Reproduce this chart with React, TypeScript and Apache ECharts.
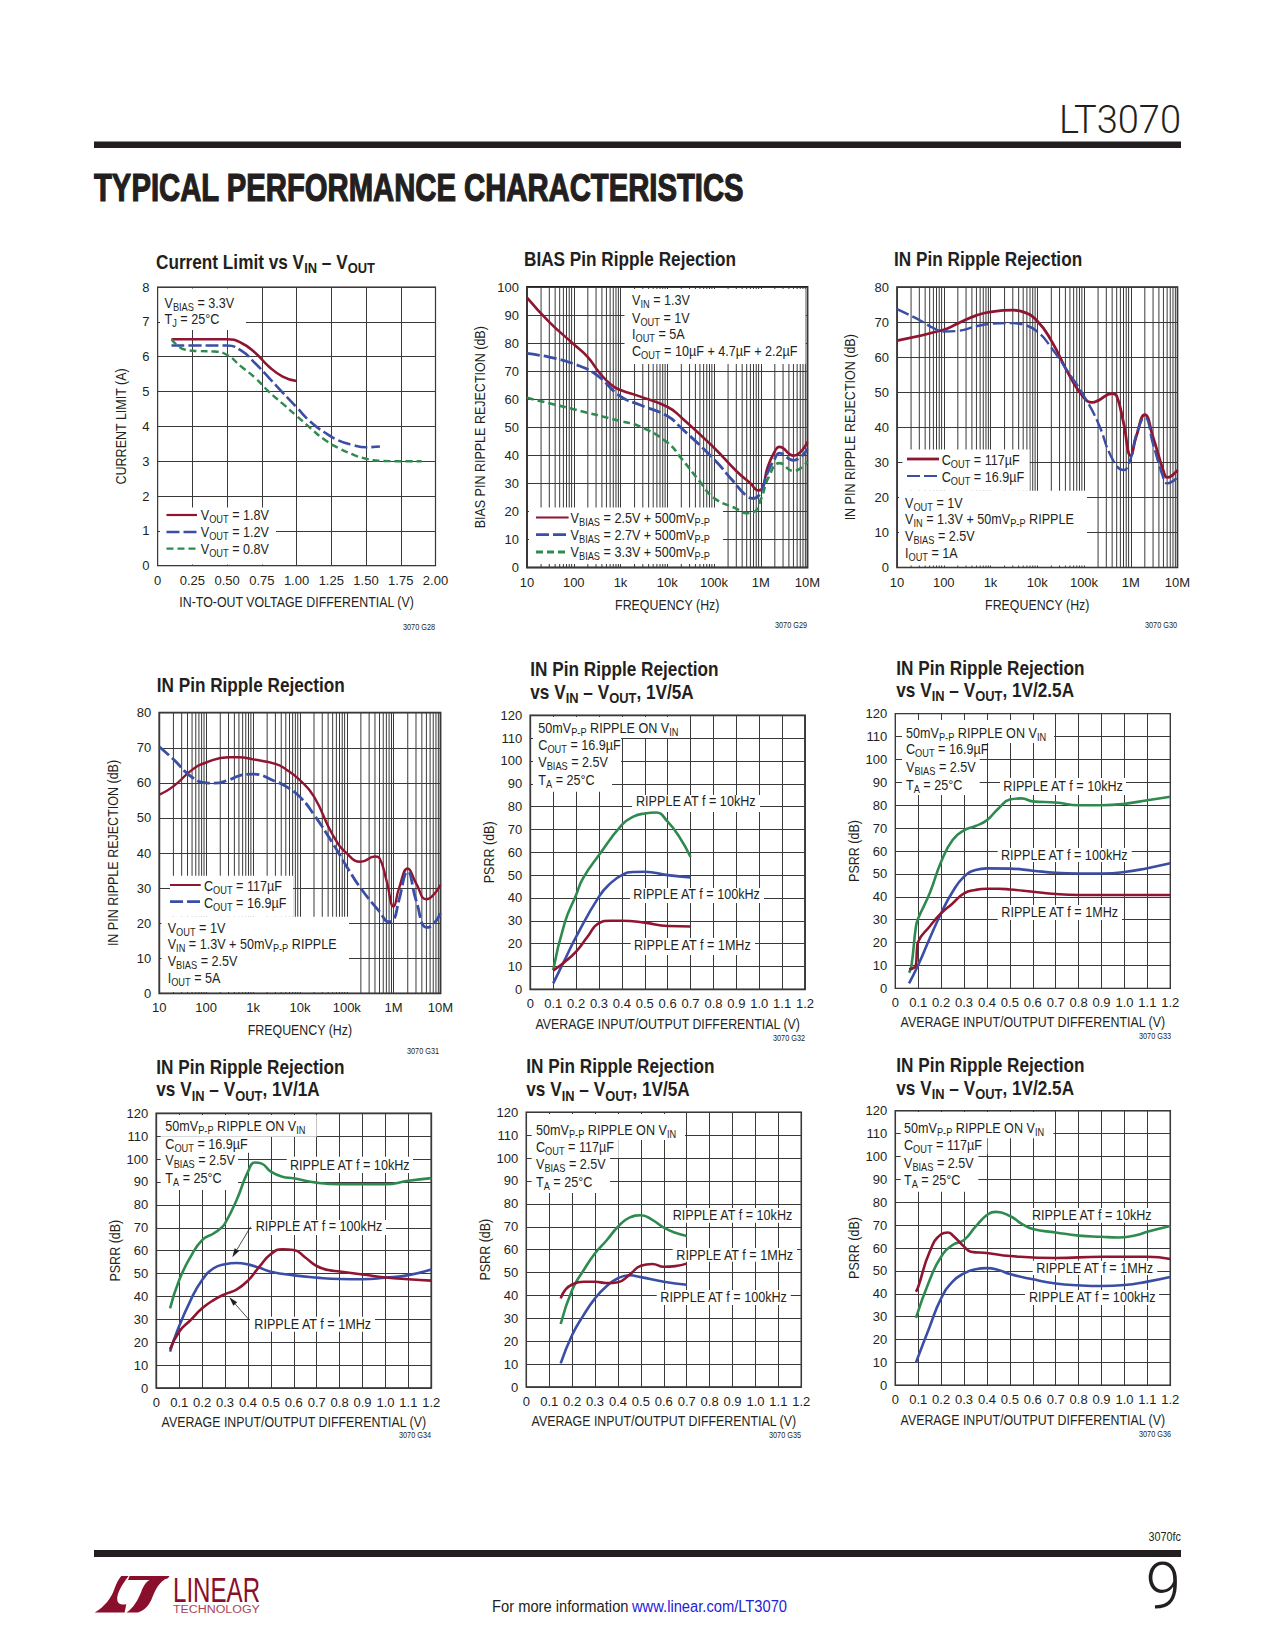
import React, { useEffect, useRef } from "react";
import * as echarts from "echarts";

const SANS = "'Liberation Sans', sans-serif";
const LIGHT = "Roboto, 'Liberation Sans', sans-serif";
const RED = "#8f1530";
const BLUE = "#3a4ea6";
const GREEN = "#2f8a50";
const INK = "#231f20";
const GRID = "#3a3a3a";

// Chart 1
const c1Red = [[0.1,6.5],[0.3,6.5],[0.5,6.5],[0.6,6.4],[0.7,6.12],[0.8,5.72],[0.9,5.43],[1.0,5.3]];
const c1Blue = [[0.1,6.32],[0.3,6.32],[0.5,6.32],[0.6,6.18],[0.7,5.82],[0.8,5.4],[0.9,4.97],[1.0,4.55],[1.1,4.13],[1.2,3.83],[1.3,3.6],[1.4,3.47],[1.5,3.4],[1.6,3.42]];
const c1Green = [[0.1,6.5],[0.2,6.2],[0.3,6.16],[0.4,6.15],[0.5,6.05],[0.6,5.72],[0.7,5.4],[0.8,5.0],[0.9,4.65],[1.0,4.3],[1.1,3.95],[1.2,3.62],[1.3,3.38],[1.4,3.2],[1.5,3.07],[1.6,3.01],[1.75,3.0],[1.9,3.0]];
// Chart 2
const c2Red = [[10,96.2],[30,87.5],[100,79.6],[200,75],[356,69.4],[650,65],[1000,63.3],[2570,61],[10000,57.3],[20000,53.5],[100000,42.7],[300000,34.4],[600000,30],[900000,27.5],[1100000,28.5],[1400000,35.7],[2000000,41.4],[2500000,43],[5000000,39.9],[10000000,44.8]];
const c2Blue = [[10,76.3],[30,75],[100,72.6],[300,68.8],[1000,61],[2570,58],[10000,54],[20000,49.7],[100000,38.6],[250000,31],[500000,25.5],[700000,24.6],[1000000,26.8],[1400000,33.8],[2000000,38.8],[2500000,40.8],[5000000,38.2],[10000000,42.3]];
const c2Green = [[10,60.5],[100,56.4],[1000,52.2],[2570,50.3],[10000,44.6],[20000,38.9],[50000,30.6],[100000,24.8],[300000,21],[500000,19.4],[700000,19.7],[1000000,24.2],[1500000,32.5],[2500000,37.2],[5000000,34.4],[10000000,37.8]];
// Chart 3
const c3Red = [[10,64.7],[100,67.8],[200,69.6],[500,71.9],[1000,72.9],[3000,73.4],[5000,72.9],[10000,70.3],[20000,64.7],[50000,54.5],[100000,48.4],[150000,47.1],[200000,47.6],[400000,49.6],[500000,48.9],[700000,41.3],[1000000,31.9],[1300000,37.2],[2000000,43.6],[3000000,37.2],[5000000,27.5],[6000000,25.7],[10000000,27.8]];
const c3Blue = [[10,73.7],[30,70.6],[60,68.3],[100,67.3],[200,67.5],[500,68.8],[1000,69.5],[3000,69.7],[5000,69.3],[10000,67.3],[20000,62.7],[50000,55],[100000,48.9],[200000,41.3],[400000,31.1],[700000,27.8],[1000000,31.1],[1300000,37.7],[2000000,42.8],[3000000,35.2],[5000000,25.5],[6000000,24],[10000000,25.7]];
// Chart 4
const c4Red = [[10,56.6],[20,59],[50,63.7],[100,65.8],[300,67.3],[500,67.3],[1000,66.7],[3000,65.4],[5000,63.9],[10000,60.8],[20000,56.1],[50000,45.2],[100000,39.9],[200000,37.5],[400000,39],[500000,38.5],[700000,32.3],[1000000,24.7],[1300000,29.9],[2000000,35.6],[3000000,31.4],[5000000,26.8],[7000000,28],[10000000,30.9]];
const c4Blue = [[10,70.3],[20,66.7],[50,61.6],[100,60],[150,59.9],[300,60.8],[500,62],[1000,62.5],[3000,60.4],[5000,59],[10000,56],[20000,50.9],[50000,42.8],[100000,36.1],[200000,29.9],[500000,23.3],[800000,20.4],[1000000,20.9],[1300000,26.6],[2000000,34.7],[3000000,26.6],[5000000,18.8],[6000000,19],[10000000,22.8]];
// Chart 5
const c5Green = [[0.1,8.5],[0.15,29],[0.2,41.3],[0.23,48.6],[0.3,58.8],[0.4,72],[0.45,75.6],[0.5,77],[0.55,77.4],[0.6,73.4],[0.65,66.9],[0.7,58]];
const c5Blue = [[0.1,2.6],[0.15,12.8],[0.2,23],[0.3,40.6],[0.35,46.4],[0.4,50],[0.45,51.4],[0.5,51.5],[0.6,50],[0.7,49]];
const c5Red = [[0.1,8.2],[0.15,12],[0.2,16.5],[0.25,23],[0.3,29],[0.35,30],[0.4,30],[0.5,29.2],[0.6,27.7],[0.7,27.5]];
// Chart 6
const c6Green = [[0.06,6.8],[0.07,9.5],[0.09,27],[0.1,30.6],[0.15,41.5],[0.2,55.3],[0.25,64.8],[0.3,69],[0.35,70.9],[0.4,73.5],[0.45,78.6],[0.5,82.5],[0.55,83],[0.6,81.7],[0.7,81.2],[0.8,80],[0.9,80],[1.0,80.6],[1.1,82.2],[1.2,83.7]];
const c6Blue = [[0.06,2.2],[0.1,10.2],[0.15,21.8],[0.2,32.8],[0.25,42.2],[0.3,48.8],[0.35,51.7],[0.4,52.4],[0.5,52.3],[0.6,51.4],[0.7,50.5],[0.8,50.2],[0.9,50.2],[1.0,50.8],[1.1,52.5],[1.2,54.6]];
const c6Red = [[0.06,8.3],[0.09,10.2],[0.095,17.5],[0.1,20.4],[0.15,27],[0.2,32.8],[0.25,37.1],[0.3,41.5],[0.35,43],[0.4,43.5],[0.45,43.5],[0.5,43.2],[0.6,42.2],[0.7,41.2],[0.8,40.8],[1.2,40.8]];
// Chart 7
const c7Green = [[0.06,34.8],[0.1,47.2],[0.15,57.4],[0.2,64.6],[0.25,67.5],[0.28,69.7],[0.3,71.9],[0.35,82],[0.4,94.5],[0.43,98.5],[0.46,98],[0.5,94.5],[0.55,92.3],[0.6,91.6],[0.7,89.7],[0.8,89],[0.9,89],[1.0,89],[1.1,90.5],[1.2,91.7]];
const c7Blue = [[0.06,15.9],[0.09,24.6],[0.15,38.4],[0.2,47.2],[0.25,52.3],[0.3,54.1],[0.35,54.6],[0.4,54],[0.45,52.5],[0.5,50.8],[0.6,49.2],[0.7,48.2],[0.8,47.6],[0.9,47.5],[1.0,48.2],[1.1,49.3],[1.2,51.8]];
const c7Red = [[0.06,16.9],[0.1,24.6],[0.15,29.7],[0.2,34.8],[0.25,38.4],[0.3,41],[0.35,43],[0.4,46.9],[0.45,53],[0.5,58.5],[0.55,60.6],[0.6,60.3],[0.65,57],[0.7,53.3],[0.75,51.5],[0.8,50.9],[0.9,49.6],[1.0,48.3],[1.1,47.5],[1.2,46.9]];
// Chart 8
const c8Green = [[0.15,27.5],[0.2,42.4],[0.25,51],[0.3,58.4],[0.35,64],[0.4,70],[0.45,74],[0.5,75],[0.55,73],[0.6,69.6],[0.65,67.4],[0.7,66]];
const c8Blue = [[0.15,10.3],[0.2,22.7],[0.25,31.4],[0.3,38.7],[0.35,44],[0.4,47.5],[0.45,48.8],[0.5,48],[0.6,46],[0.7,44.7]];
const c8Red = [[0.15,38.7],[0.17,42.4],[0.2,44.8],[0.25,46],[0.3,46],[0.35,45.4],[0.4,45.8],[0.45,49],[0.5,53],[0.55,53.7],[0.6,52.5],[0.65,52.8],[0.7,53.9]];
// Chart 9
const c9Red = [[0.09,40.9],[0.1,43],[0.15,58.4],[0.2,66],[0.23,66.8],[0.25,65.6],[0.3,60.6],[0.33,58.4],[0.4,57.8],[0.5,56.5],[0.7,55.6],[0.9,56.2],[1.1,56.2],[1.2,55.2]];
const c9Green = [[0.09,29.5],[0.15,46],[0.2,56.2],[0.25,61.3],[0.3,63.5],[0.35,69.3],[0.4,74.4],[0.44,75.8],[0.5,74],[0.55,70.7],[0.6,68.3],[0.7,66.8],[0.8,65.4],[0.9,64.9],[0.97,64.6],[1.05,65.6],[1.1,67.1],[1.2,69.6]];
const c9Blue = [[0.09,9.9],[0.15,25.6],[0.2,38],[0.25,45.3],[0.3,48.9],[0.35,50.7],[0.4,51.2],[0.45,50.4],[0.5,48.6],[0.6,46.3],[0.7,44.5],[0.8,43.7],[0.9,43.4],[1.0,43.8],[1.1,45.3],[1.2,47.3]];

const freqDecades = [10, 100, 1000, 10000, 100000, 1000000];
const freqMinorSteps = [2, 3, 4, 5, 6, 7, 8, 9];
const freqTickLabels: Record<number, string> = { 10: "10", 100: "100", 1000: "1k", 10000: "10k", 100000: "100k", 1000000: "1M", 10000000: "10M" };

const LOGO_MARK = "M100 33 L122 33 C105 55 85 85 88 105 C90 118 100 120 115 118 L110 143 L20 143 C50 125 70 100 80 70 C85 55 92 42 100 33 Z M125 33 L245 33 L240 40 C215 45 200 80 190 105 C180 125 170 135 150 143 L115 143 C135 130 150 105 160 80 C165 65 175 50 185 45 L120 45 Z";
echarts.graphic.registerShape("ltmark", echarts.graphic.extendPath(LOGO_MARK, {}) as any);

function rt(s: string) {
  return s.split("_").map((p, i) => (p === "" ? "" : `{${i % 2 ? "s" : "n"}|${p}}`)).join("");
}
function txt(x: number, y: number, s: string, size = 15, o: any = {}) {
  const font: any = { fontFamily: o.family || SANS, fontWeight: o.weight || "normal", fill: o.color || INK };
  if (o.stroke) { font.stroke = o.color || INK; font.lineWidth = o.stroke; }
  const lh = Math.round(size * 1.35);
  return {
    type: "text", x, y, z: 10, silent: true, scaleX: o.scaleX ?? 0.84, rotation: o.rotation ?? 0,
    style: {
      text: rt(s), align: o.align || "left", verticalAlign: "middle",
      rich: {
        n: { ...font, fontSize: size, lineHeight: lh },
        s: { ...font, fontSize: Math.round(size * 0.76), lineHeight: lh, verticalAlign: "bottom" },
      },
    },
  };
}
const head = (x: number, y: number, s: string) => txt(x, y, s, 20, { weight: "bold", scaleX: 0.86 });
function box(x1: number, y1: number, x2: number, y2: number) {
  return { type: "rect", z: 1, silent: true, shape: { x: x1, y: y1, width: x2 - x1, height: y2 - y1 }, style: { fill: "#fff" } };
}
function key(x1: number, x2: number, y: number, color: string, w: number, dash?: number[]) {
  return { type: "line", z: 5, silent: true, shape: { x1, y1: y, x2, y2: y }, style: { stroke: color, lineWidth: w, lineDash: dash } };
}
function arrow(x1: number, y1: number, x2: number, y2: number) {
  const a = Math.atan2(y2 - y1, x2 - x1);
  const L = 9, W = 2.6;
  const bx = x2 - L * Math.cos(a), by = y2 - L * Math.sin(a);
  const nx = -Math.sin(a) * W, ny = Math.cos(a) * W;
  return [
    { type: "line", z: 6, silent: true, shape: { x1, y1, x2: bx, y2: by }, style: { stroke: INK, lineWidth: 0.8 } },
    { type: "polygon", z: 6, silent: true, shape: { points: [[x2, y2], [bx + nx, by + ny], [bx - nx, by - ny]] }, style: { fill: INK } },
  ];
}

type Curve = { name: string; data: number[][]; color: string; width: number; dash?: number[] };
type Panel = {
  l: number; r: number; t: number; b: number; log?: boolean; xMax?: number; xStep?: number; yMax: number;
  xName: string; yName: string; xGap: number; yGap: number; frame: number; xFixed?: number; curves: Curve[];
};

const DIFF = "AVERAGE INPUT/OUTPUT DIFFERENTIAL (V)";
const FREQ = "FREQUENCY (Hz)";
const rej = "IN PIN RIPPLE REJECTION (dB)";
const sol = (name: string, data: number[][], color: string, width = 2.6): Curve => ({ name, data, color, width });

const panels: Panel[] = [
  { l: 157.6, r: 435.5, t: 287, b: 565.7, xMax: 2, xStep: 0.25, xFixed: 2, yMax: 8, xName: "IN-TO-OUT VOLTAGE DIFFERENTIAL (V)", yName: "CURRENT LIMIT (A)", xGap: 36, yGap: 37, frame: 1.2,
    curves: [sol("VOUT = 1.8V", c1Red, RED), { name: "VOUT = 1.2V", data: c1Blue, color: BLUE, width: 2.6, dash: [13, 4] }, { name: "VOUT = 0.8V", data: c1Green, color: GREEN, width: 2.4, dash: [7, 4] }] },
  { l: 527, r: 807.5, t: 287, b: 567.5, log: true, yMax: 100, xName: FREQ, yName: "BIAS PIN RIPPLE REJECTION (dB)", xGap: 37.5, yGap: 47, frame: 1.8,
    curves: [sol("VBIAS = 2.5V", c2Red, RED), { name: "VBIAS = 2.7V", data: c2Blue, color: BLUE, width: 2.8, dash: [13, 4] }, { name: "VBIAS = 3.3V", data: c2Green, color: GREEN, width: 2.6, dash: [7, 4] }] },
  { l: 897, r: 1177.5, t: 287, b: 567.5, log: true, yMax: 80, xName: FREQ, yName: rej, xGap: 37.5, yGap: 47, frame: 1.6,
    curves: [sol("COUT = 117uF", c3Red, RED, 2.8), { name: "COUT = 16.9uF", data: c3Blue, color: BLUE, width: 2.4, dash: [13, 4] }] },
  { l: 159.3, r: 440.5, t: 712.7, b: 993.3, log: true, yMax: 80, xName: FREQ, yName: rej, xGap: 37, yGap: 47, frame: 1.8,
    curves: [sol("COUT = 117uF", c4Red, RED, 2.4), { name: "COUT = 16.9uF", data: c4Blue, color: BLUE, width: 2.8, dash: [13, 4] }] },
  { l: 530.3, r: 805, t: 715.3, b: 989.3, xMax: 1.2, xStep: 0.1, xFixed: 1, yMax: 120, xName: DIFF, yName: "PSRR (dB)", xGap: 35, yGap: 42, frame: 1.7,
    curves: [sol("10kHz", c5Green, GREEN), sol("100kHz", c5Blue, BLUE), sol("1MHz", c5Red, RED)] },
  { l: 895.3, r: 1170.3, t: 713.7, b: 988.3, xMax: 1.2, xStep: 0.1, xFixed: 1, yMax: 120, xName: DIFF, yName: "PSRR (dB)", xGap: 33.4, yGap: 42, frame: 1.3,
    curves: [sol("10kHz", c6Green, GREEN), sol("100kHz", c6Blue, BLUE), sol("1MHz", c6Red, RED)] },
  { l: 156.3, r: 431.3, t: 1113.3, b: 1388, xMax: 1.2, xStep: 0.1, xFixed: 1, yMax: 120, xName: DIFF, yName: "PSRR (dB)", xGap: 33.7, yGap: 42, frame: 1.7,
    curves: [sol("10kHz", c7Green, GREEN), sol("100kHz", c7Blue, BLUE), sol("1MHz", c7Red, RED)] },
  { l: 526.3, r: 801.3, t: 1112.3, b: 1387, xMax: 1.2, xStep: 0.1, xFixed: 1, yMax: 120, xName: DIFF, yName: "PSRR (dB)", xGap: 34, yGap: 42, frame: 1.5,
    curves: [sol("10kHz", c8Green, GREEN), sol("100kHz", c8Blue, BLUE), sol("1MHz", c8Red, RED)] },
  { l: 895.3, r: 1170.3, t: 1110.7, b: 1385.3, xMax: 1.2, xStep: 0.1, xFixed: 1, yMax: 120, xName: DIFF, yName: "PSRR (dB)", xGap: 34.7, yGap: 42, frame: 1.5,
    curves: [sol("10kHz", c9Green, GREEN), sol("100kHz", c9Blue, BLUE), sol("1MHz", c9Red, RED)] },
];

const ann = (x: number, lines: [number, string][]) => lines.map(([y, s]) => txt(x, y, s));

const graphicElements: any[] = [
  // header and footer
  txt(1181, 120, "LT3070", 38, { align: "right", family: LIGHT, weight: 300, scaleX: 1 }),
  { type: "rect", z: 1, silent: true, shape: { x: 94, y: 141.5, width: 1087, height: 6.5 }, style: { fill: INK } },
  txt(94, 188, "TYPICAL PERFORMANCE CHARACTERISTICS", 38, { weight: "bold", scaleX: 0.77, stroke: 1.2 }),
  { type: "rect", z: 1, silent: true, shape: { x: 94, y: 1550, width: 1087, height: 7 }, style: { fill: INK } },
  txt(1181, 1537, "3070fc", 12, { align: "right", scaleX: 0.9 }),
  txt(1181, 1586, "9", 64, { align: "right", family: LIGHT, weight: 300, scaleX: 1 }),
  txt(492, 1606, "For more information", 16, { scaleX: 0.92 }),
  txt(632, 1606, "www.linear.com/LT3070", 16, { color: "#1f22d6", scaleX: 0.92 }),
  { type: "ltmark", z: 5, silent: true, x: 88, y: 1565, scaleX: 1 / 3, scaleY: 1 / 3, style: { fill: "#8a0f2c" } },
  txt(173, 1589, "LINEAR", 36, { color: "#8a0f2c", scaleX: 0.67 }),
  txt(173, 1609, "TECHNOLOGY", 11.5, { color: "#a8485c", scaleX: 1.08 }),

  // titles
  head(156, 262, "Current Limit vs V_IN_ – V_OUT_"),
  head(524, 258.6, "BIAS Pin Ripple Rejection"),
  head(894, 258.6, "IN Pin Ripple Rejection"),
  head(156.7, 685, "IN Pin Ripple Rejection"),
  head(530.3, 669, "IN Pin Ripple Rejection"),
  head(530.3, 691.7, "vs V_IN_ – V_OUT_, 1V/5A"),
  head(896.3, 667.7, "IN Pin Ripple Rejection"),
  head(896.3, 690, "vs V_IN_ – V_OUT_, 1V/2.5A"),
  head(156.3, 1066.7, "IN Pin Ripple Rejection"),
  head(156.3, 1089.3, "vs V_IN_ – V_OUT_, 1V/1A"),
  head(526.3, 1066, "IN Pin Ripple Rejection"),
  head(526.3, 1089.3, "vs V_IN_ – V_OUT_, 1V/5A"),
  head(896.3, 1065, "IN Pin Ripple Rejection"),
  head(896.3, 1087.7, "vs V_IN_ – V_OUT_, 1V/2.5A"),

  // figure codes
  ...([[435, 627, "3070 G28"], [807, 625.7, "3070 G29"], [1177, 625.7, "3070 G30"], [439, 1051.7, "3070 G31"], [805, 1038, "3070 G32"], [1171, 1036.7, "3070 G33"], [431, 1435.7, "3070 G34"], [801, 1435.7, "3070 G35"], [1171, 1434, "3070 G36"]] as [number, number, string][]).map(([x, y, s]) => txt(x, y, s, 8.5, { align: "right", scaleX: 0.86 })),

  // axis titles
  ...panels.flatMap((p) => [
    txt((p.l + p.r) / 2, p.b + p.xGap, p.xName, 15, { align: "center", scaleX: 0.825 }),
    txt(p.l - p.yGap, (p.t + p.b) / 2, p.yName, 15, { align: "center", scaleX: 0.835, rotation: Math.PI / 2 }),
  ]),

  // chart 1
  box(160, 288.5, 246, 330), box(160, 507.5, 276, 564.5),
  ...ann(164.5, [[303, "V_BIAS_ = 3.3V"], [319, "T_J_ = 25°C"]]),
  key(166.5, 197, 515, RED, 2.2), key(166.5, 197, 532, BLUE, 2.4, [13, 4]), key(166.5, 197, 548.6, GREEN, 2.2, [7, 4]),
  ...ann(200.8, [[515, "V_OUT_ = 1.8V"], [532, "V_OUT_ = 1.2V"], [548.6, "V_OUT_ = 0.8V"]]),

  // chart 2
  box(624.5, 289, 805.5, 364), box(529, 507.5, 723, 564),
  ...ann(632, [[299.6, "V_IN_ = 1.3V"], [317.5, "V_OUT_ = 1V"], [334, "I_OUT_ = 5A"], [351, "C_OUT_ = 10µF + 4.7µF + 2.2µF"]]),
  key(536, 568.6, 517.5, RED, 2), key(536, 568.6, 534.6, BLUE, 2.8, [13, 4]), key(536, 568.6, 552, GREEN, 2.8, [7, 4]),
  ...ann(570.6, [[517.5, "V_BIAS_ = 2.5V + 500mV_P-P_"], [534.6, "V_BIAS_ = 2.7V + 500mV_P-P_"], [552, "V_BIAS_ = 3.3V + 500mV_P-P_"]]),

  // chart 3
  box(902.5, 449.6, 1029.6, 490.7), box(899, 490.7, 1087, 565.5),
  key(907, 939, 459, RED, 2.8), key(907, 939, 476, BLUE, 2.2, [13, 4]),
  ...ann(941.7, [[460, "C_OUT_ = 117µF"], [477, "C_OUT_ = 16.9µF"]]),
  ...ann(905, [[502.5, "V_OUT_ = 1V"], [518.6, "V_IN_ = 1.3V + 50mV_P-P_ RIPPLE"], [536, "V_BIAS_ = 2.5V"], [553, "I_OUT_ = 1A"]]),

  // chart 4
  box(170, 875.7, 293, 916.7), box(161.5, 916.7, 349, 992),
  key(170, 200.7, 885, RED, 2), key(170, 200.7, 901.7, BLUE, 2.8, [13, 4]),
  ...ann(204, [[886, "C_OUT_ = 117µF"], [903, "C_OUT_ = 16.9µF"]]),
  ...ann(167.7, [[927.3, "V_OUT_ = 1V"], [944, "V_IN_ = 1.3V + 50mV_P-P_ RIPPLE"], [961, "V_BIAS_ = 2.5V"], [978, "I_OUT_ = 5A"]]),

  // chart 5
  box(533, 717, 687, 738), box(533, 738, 621, 773), box(533, 773, 612, 791.7),
  ...ann(538.3, [[728, "50mV_P-P_ RIPPLE ON V_IN_"], [745, "C_OUT_ = 16.9µF"], [762, "V_BIAS_ = 2.5V"], [780, "T_A_ = 25°C"]]),
  box(632, 795, 760, 812), box(630, 888, 764, 903), box(630.7, 938, 755, 955),
  txt(636, 801, "RIPPLE AT f = 10kHz"), txt(633.3, 894, "RIPPLE AT f = 100kHz"), txt(634, 945, "RIPPLE AT f = 1MHz"),

  // chart 6
  box(902, 720, 1054, 743), box(902, 743, 987, 758), box(902, 758, 979.7, 795),
  ...ann(906, [[732.3, "50mV_P-P_ RIPPLE ON V_IN_"], [749, "C_OUT_ = 16.9µF"], [766.7, "V_BIAS_ = 2.5V"], [784.3, "T_A_ = 25°C"]]),
  box(1000, 778, 1126, 795), box(997.7, 848, 1131.7, 862), box(997.7, 905, 1122, 920),
  txt(1003.3, 786, "RIPPLE AT f = 10kHz"), txt(1001, 855, "RIPPLE AT f = 100kHz"), txt(1001.3, 911.7, "RIPPLE AT f = 1MHz"),

  // chart 7
  box(160.7, 1115, 316.7, 1136.7), box(160.7, 1136.7, 251.7, 1152.7), box(160.7, 1152.7, 238, 1190),
  ...ann(165.3, [[1126, "50mV_P-P_ RIPPLE ON V_IN_"], [1143.3, "C_OUT_ = 16.9µF"], [1160, "V_BIAS_ = 2.5V"], [1177.7, "T_A_ = 25°C"]]),
  box(286.7, 1156.7, 413, 1173), box(251.7, 1220, 386, 1235), box(250, 1316.7, 375, 1331.7),
  txt(290, 1165, "RIPPLE AT f = 10kHz"), txt(255.7, 1225.7, "RIPPLE AT f = 100kHz"), txt(254.3, 1324, "RIPPLE AT f = 1MHz"),
  ...arrow(250.7, 1226.7, 232.3, 1257.3), ...arrow(249.3, 1320, 229.3, 1297.3),

  // chart 8
  box(531.7, 1114, 685, 1140), box(531.7, 1140, 618.7, 1158), box(531.7, 1158, 610, 1193),
  ...ann(536, [[1130, "50mV_P-P_ RIPPLE ON V_IN_"], [1146.7, "C_OUT_ = 117µF"], [1164, "V_BIAS_ = 2.5V"], [1181.7, "T_A_ = 25°C"]]),
  box(669, 1208, 796.7, 1222.7), box(672.7, 1248, 797, 1261.7), box(656.7, 1290, 790.7, 1305),
  txt(672.7, 1215, "RIPPLE AT f = 10kHz"), txt(676.3, 1255, "RIPPLE AT f = 1MHz"), txt(660.3, 1297, "RIPPLE AT f = 100kHz"),

  // chart 9
  box(900.7, 1112, 1053.3, 1138.3), box(900.7, 1138.3, 987.3, 1154), box(900.7, 1154, 978.3, 1191.7),
  ...ann(904, [[1127.3, "50mV_P-P_ RIPPLE ON V_IN_"], [1144.3, "C_OUT_ = 117µF"], [1162.3, "V_BIAS_ = 2.5V"], [1180, "T_A_ = 25°C"]]),
  box(1028.3, 1208, 1153.3, 1222.7), box(1032.7, 1260.7, 1157.3, 1275), box(1025, 1290, 1159, 1305),
  txt(1032, 1215, "RIPPLE AT f = 10kHz"), txt(1036.3, 1268, "RIPPLE AT f = 1MHz"), txt(1029, 1297, "RIPPLE AT f = 100kHz"),
];

function buildOption() {
  const label = { fontFamily: SANS, fontSize: 13, color: INK };
  const grid = panels.map((p) => ({
    left: p.l, top: p.t, width: p.r - p.l, height: p.b - p.t, show: true, borderColor: INK, borderWidth: p.frame, backgroundColor: "transparent", containLabel: false,
  }));
  const xAxis = panels.map((p, i) => ({
    gridIndex: i,
    type: p.log ? "log" : "value",
    logBase: 10,
    min: p.log ? 10 : 0,
    max: p.log ? 10000000 : p.xMax,
    interval: p.log ? undefined : p.xStep,
    axisLine: { show: false },
    axisTick: { show: false },
    axisLabel: {
      ...label, margin: 8, showMinLabel: true, showMaxLabel: true, hideOverlap: false,
      formatter: (v: number) => (p.log ? freqTickLabels[Math.round(v)] ?? "" : v === 0 ? "0" : v.toFixed(p.xFixed === 2 ? 2 : 1)),
    },
    splitLine: { show: true, lineStyle: { color: GRID, width: 1 } },
  }));
  const yAxis = panels.map((p, i) => ({
    gridIndex: i,
    type: "value",
    min: 0,
    max: p.yMax,
    interval: p.yMax === 8 ? 1 : 10,
    axisLine: { show: false },
    axisTick: { show: false },
    axisLabel: { ...label, margin: 8 },
    splitLine: { show: true, lineStyle: { color: GRID, width: 1 } },
  }));
  const series: any[] = [];
  panels.forEach((p, i) => {
    if (p.log) {
      const data: (number | null)[][] = [];
      freqDecades.forEach((d) => freqMinorSteps.forEach((m) => { data.push([d * m, 0], [d * m, p.yMax], [null, null]); }));
      series.push({ name: "minor grid", type: "line", xAxisIndex: i, yAxisIndex: i, z: 0, silent: true, showSymbol: false, symbol: "none", connectNulls: false, data, lineStyle: { color: GRID, width: 1 } });
    }
    p.curves.forEach((c) => {
      series.push({
        name: c.name, type: "line", xAxisIndex: i, yAxisIndex: i, z: 3, smooth: 0.5, showSymbol: false, symbol: "none", data: c.data, silent: true,
        lineStyle: { color: c.color, width: c.width, type: c.dash || "solid", cap: "butt", join: "round" },
      });
    });
  });
  return { animation: false, backgroundColor: "#fff", grid, xAxis, yAxis, series, graphic: { elements: graphicElements } };
}

export default function App() {
  const ref = useRef<HTMLDivElement>(null);
  useEffect(() => {
    const chart = echarts.init(ref.current!, undefined, { renderer: "svg" });
    chart.setOption(buildOption() as any);
    return () => chart.dispose();
  }, []);
  return <div ref={ref} style={{ position: "absolute", left: 0, top: 0, width: 1275, height: 1650 }} />;
}
